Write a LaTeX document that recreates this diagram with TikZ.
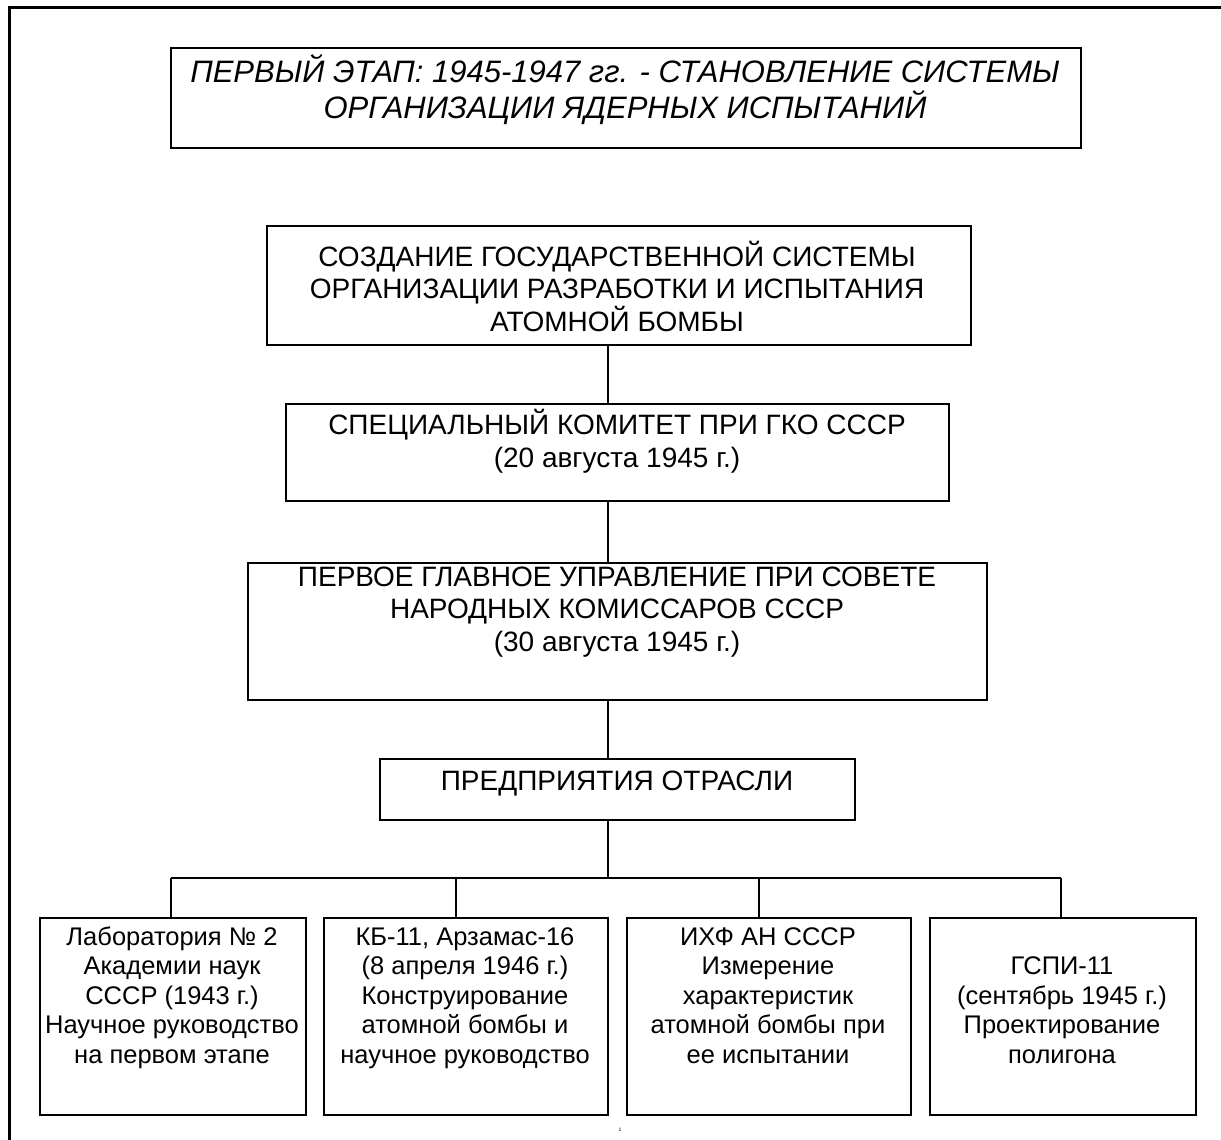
\documentclass[tikz,border=0pt]{standalone}
\usepackage{fontspec}
\setmainfont{Liberation Sans}
\usepackage{tikz}
\tikzstyle{block}=[draw,rectangle,line width=1.8pt,anchor=north west,inner sep=0pt]
\tikzstyle{heading}=[anchor=base,align=center,inner sep=0pt,font=\fontsize{31}{36}\selectfont\itshape]
\tikzstyle{midtext}=[anchor=base,align=center,inner sep=0pt,font=\fontsize{28}{32.5}\selectfont]
\tikzstyle{lowtext}=[anchor=base,align=center,inner sep=0pt,font=\fontsize{25.5}{29.5}\selectfont]

\begin{document}
\begin{tikzpicture}[x=1pt, y=-1pt, thick]
\useasboundingbox (0,0) rectangle (1221,1140);
\draw[line width=3pt] (9,1140) -- (9,8) -- (1221,8);
  \foreach \place/\w/\h/\name in {{(170,47)/910/100/title},
                                  {(266,225)/704/119/create},
                                  {(285,403)/663/97/committee},
                                  {(247,562)/739/137/directorate},
                                  {(379,758)/475/61/industry},
                                  {(39,917)/266/197/lab},
                                  {(323,917)/284/197/kb},
                                  {(626,917)/284/197/ichf},
                                  {(929,917)/266/197/gspi}}
    \node[block, minimum width=\w pt, minimum height=\h pt] (\name) at \place {};
% texts (placed by the baseline of the last line)
\node[heading] (titletext) at (625,118) {ПЕРВЫЙ ЭТАП: 1945-1947 гг. - СТАНОВЛЕНИЕ СИСТЕМЫ\\ОРГАНИЗАЦИИ ЯДЕРНЫХ ИСПЫТАНИЙ};
\node[midtext] (createtext) at (617,331) {СОЗДАНИЕ ГОСУДАРСТВЕННОЙ СИСТЕМЫ\\ОРГАНИЗАЦИИ РАЗРАБОТКИ И ИСПЫТАНИЯ\\АТОМНОЙ БОМБЫ};
\node[midtext] (committeetext) at (617,467) {СПЕЦИАЛЬНЫЙ КОМИТЕТ ПРИ ГКО СССР\\(20 августа 1945 г.)};
\node[midtext] (directoratetext) at (617,651) {ПЕРВОЕ ГЛАВНОЕ УПРАВЛЕНИЕ ПРИ СОВЕТЕ\\НАРОДНЫХ КОМИССАРОВ СССР\\(30 августа 1945 г.)};
\node[midtext] (industrytext) at (617,790) {ПРЕДПРИЯТИЯ ОТРАСЛИ};
\node[lowtext] (labtext) at (172,1063) {Лаборатория № 2\\Академии наук\\СССР (1943 г.)\\Научное руководство\\на первом этапе};
\node[lowtext] (kbtext) at (465,1063) {КБ-11, Арзамас-16\\(8 апреля 1946 г.)\\Конструирование\\атомной бомбы и\\научное руководство};
\node[lowtext] (ichftext) at (768,1063) {ИХФ АН СССР\\Измерение\\характеристик\\атомной бомбы при\\ее испытании};
\node[lowtext] (gspitext) at (1062,1063) {ГСПИ-11\\(сентябрь 1945 г.)\\Проектирование\\полигона};
\node[inner sep=0pt] (pagenum) at (620,1130) {\fontsize{5}{6}\selectfont 1};
% connectors
\coordinate (axis) at (608,0);
\coordinate (fork) at (608,878);
  \foreach \source/\dest in {create/committee,committee/directorate,directorate/industry}
      \draw[line width=1.5pt] (\source.south -| axis) -- (\dest.north -| axis);
\draw[line width=1.5pt] (industry.south -| axis) -- (fork);
  \foreach \name/\x in {lab/171,kb/456,ichf/759,gspi/1061}
    \coordinate (top\name) at (\x,878);
\draw[line width=1.5pt] (toplab) -- (topgspi);
  \foreach \name in {lab,kb,ichf,gspi}
      \draw[line width=1.5pt] (top\name) -- (\name.north -| top\name);
\end{tikzpicture}
\end{document}
